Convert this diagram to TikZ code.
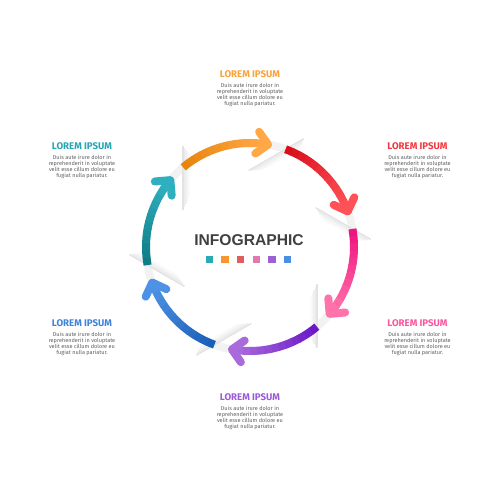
\documentclass[tikz,border=0pt]{standalone}
\usepackage{fontspec}
\setmainfont{Fira Sans}
\newfontfamily\headfont{Liberation Sans}
\usetikzlibrary{positioning, calc}

\definecolor{orgA}{HTML}{E8850F}
\definecolor{orgB}{HTML}{FFA845}
\definecolor{redA}{HTML}{D90E1B}
\definecolor{redB}{HTML}{FF5258}
\definecolor{pnkA}{HTML}{F0147F}
\definecolor{pnkB}{HTML}{FF72AA}
\definecolor{purA}{HTML}{6A18C8}
\definecolor{purB}{HTML}{A96ADC}
\definecolor{bluA}{HTML}{1A5FB8}
\definecolor{bluB}{HTML}{4D92E4}
\definecolor{tealA}{HTML}{0E7C86}
\definecolor{tealB}{HTML}{2FB0C0}
\definecolor{txtgray}{HTML}{5E5E5E}

\newcommand{\loremtext}{Duis aute irure dolor in\\reprehenderit in voluptate\\velit esse cillum dolore eu\\fugiat nulla pariatur.}

\begin{document}
\begin{tikzpicture}[
    ring/.style={line width=0.16cm},
    chevron/.style={line width=0.16cm, line cap=round, line join=round},
    fold/.style={line width=0.03cm},
    title/.style={inner sep=0pt, font=\fontsize{5.5}{6}\selectfont\bfseries},
    body/.style={inner sep=0pt, align=center, text=txtgray, font=\fontsize{3.15}{3.45}\selectfont},
    swatch/.style={minimum size=0.15cm, inner sep=0pt}
]

\useasboundingbox (0,0) rectangle (10,10);

% Ring
\coordinate (C) at (5,5.06);
\def\R{2.08}
\draw[ring, black!5] (C) circle[radius=\R];

% Folds at the cuts
\foreach \s in {130,70,10,-50,-110,-170} {
  \begin{scope}[shift={($(C)+(\s:\R)$)}, rotate=\s-40]
    \foreach \k/\g in {0/11,1/8,2/6,3/4,4/2}
      \draw[fold, black!\g] (-0.85+\k*0.06,-\k*0.03) -- (0.42-\k*0.04,-\k*0.03);
  \end{scope}
}

% Coloured arrows
\foreach \s/\ca/\cb in {130/orgA/orgB, 70/redA/redB, 10/pnkA/pnkB, -50/purA/purB, -110/bluA/bluB, -170/tealA/tealB} {
  \foreach \i in {0,...,11} {
    \pgfmathsetmacro{\a}{\s-\i*4}
    \pgfmathsetmacro{\b}{\a-4.3}
    \pgfmathtruncatemacro{\p}{100-\i*9}
    \draw[ring, color=\ca!\p!\cb] ($(C)+(\a:\R)$) arc[start angle=\a, end angle=\b, radius=\R];
  }
  \begin{scope}[shift={($(C)+(\s-50:\R)$)}, rotate=\s-140]
    \draw[chevron, \cb] (-0.22,0.22) -- (0,0) -- (-0.22,-0.22);
  \end{scope}
}

% Centre
\node[font=\headfont\fontsize{8.9}{9}\selectfont\bfseries, text=black!75] (head) at (4.98,5.19) {INFOGRAPHIC};
\foreach \c [count=\i] in {2AA9B6, F7962E, E05C5E, E07AAE, 9A62D2, 4A8FE0} {
  \definecolor{sq}{HTML}{\c}
  \node[swatch, fill=sq] (sq\i) at ({3.878+0.312*\i}, 4.81) {};
}

% Labels
\node[title, text=orgB!80!orgA] (t-top) at (5,8.52) {LOREM IPSUM};
\node[body, below=0.09cm of t-top] (b-top) {\loremtext};

\node[title, text=tealB!80!tealA] (t-ul) at (1.64,7.08) {LOREM IPSUM};
\node[body, below=0.09cm of t-ul] (b-ul) {\loremtext};

\node[title, text=redB!60!redA] (t-ur) at (8.35,7.08) {LOREM IPSUM};
\node[body, below=0.09cm of t-ur] (b-ur) {\loremtext};

\node[title, text=bluB!70!bluA] (t-ll) at (1.64,3.53) {LOREM IPSUM};
\node[body, below=0.09cm of t-ll] (b-ll) {\loremtext};

\node[title, text=pnkB!70!pnkA] (t-lr) at (8.35,3.53) {LOREM IPSUM};
\node[body, below=0.09cm of t-lr] (b-lr) {\loremtext};

\node[title, text=purB!80!purA] (t-bot) at (5,2.05) {LOREM IPSUM};
\node[body, below=0.09cm of t-bot] (b-bot) {\loremtext};

\end{tikzpicture}
\end{document}
